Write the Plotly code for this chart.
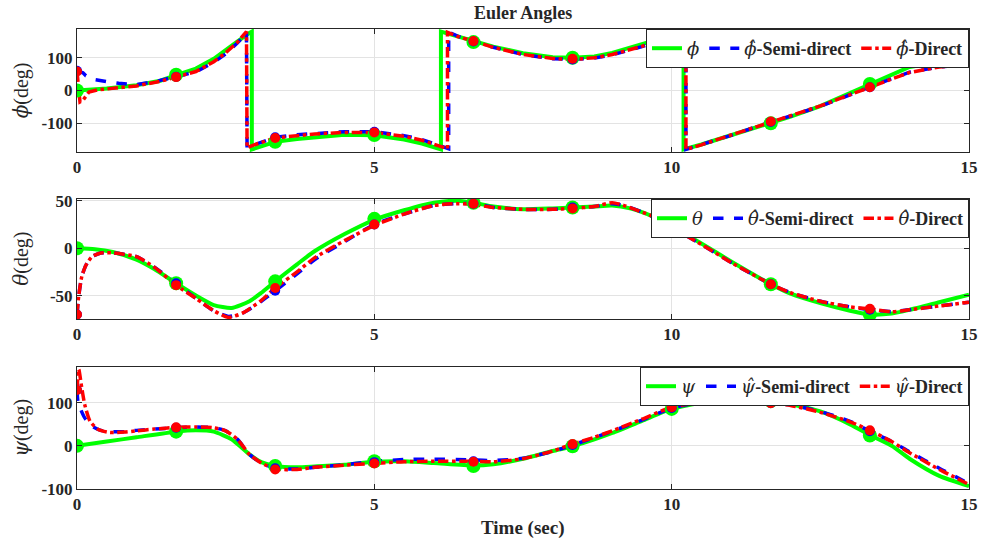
import plotly.graph_objects as go

# ---------------- data ----------------
# Phi
t_phi_true = [0, 0.5, 1.0, 1.4, 1.667, 2.0, 2.3, 2.5, 2.7, 2.9, 2.94, 2.94, 3.1, 3.333, 3.7, 4.0, 4.5, 5.0, 5.5, 5.8, 6.1, 6.12,
              6.12, 6.4, 6.667, 7.0, 7.5, 8.0, 8.333, 8.7, 9.0, 9.5, 9.8, 10.2, 10.2, 10.5, 11.0, 11.667, 12.0, 12.5, 13.0,
              13.333, 13.7, 14.0, 14.5, 15.0]
phi_true = [0, 6, 16, 30, 47, 67, 97, 122, 150, 176, 180, -180, -170, -157, -148, -142, -135, -137, -150, -162, -178, -180,
            180, 165, 149, 134, 114, 102, 100, 104, 115, 140, 158, 180, -180, -165, -137, -100, -80, -48, -8,
            20, 50, 72, 87, 90]

t_phi_semi = [0, 0.05, 0.1, 0.15, 0.3, 0.5, 0.7, 1.0, 1.3, 1.667, 2.0, 2.3, 2.5, 2.7, 2.84, 2.85, 2.86, 3.0, 3.333, 3.7, 4.0, 4.5,
              5.0, 5.5, 5.8, 6.1, 6.25, 6.25, 6.4, 6.667, 7.0, 7.5, 8.0, 8.333, 8.7, 9.0, 9.5, 9.8, 10.24, 10.24, 10.5,
              11.0, 11.667, 12.0, 12.5, 13.0, 13.333, 13.7, 14.0, 14.5, 15.0]
phi_semi = [60, 58, 54, 45, 33, 27, 22, 18, 27, 42, 57, 86, 112, 146, 172, 180, -176, -165, -143, -135, -131, -126,
            -126, -138, -150, -168, -178, 178, 166, 150, 132, 110, 97, 95, 99, 109, 134, 154, 180, -180, -166,
            -137, -96, -78, -48, -12, 10, 36, 56, 72, 80]

t_phi_dir = [0, 0.02, 0.05, 0.1, 0.2, 0.35, 0.5, 1.0, 1.4, 1.667, 2.0, 2.3, 2.5, 2.7, 2.84, 2.85, 2.86, 3.0, 3.333, 3.7, 4.0,
             4.5, 5.0, 5.5, 5.8, 6.1, 6.23, 6.23, 6.4, 6.667, 7.0, 7.5, 8.0, 8.333, 8.7, 9.0, 9.5, 9.8, 10.24, 10.24,
             10.5, 11.0, 11.667, 12.0, 12.5, 13.0, 13.333, 13.7, 14.0, 14.5, 15.0]
phi_dir = [58, 20, -35, -30, -5, 2, 5, 14, 28, 41, 58, 88, 115, 148, 175, 180, -175, -165, -145, -137, -133,
           -128, -128, -140, -152, -170, -178, 178, 165, 151, 132, 110, 98, 95, 100, 110, 135, 155, 180, -180,
           -166, -136, -95, -77, -47, -12, 10, 35, 55, 72, 80]

# Theta
t_theta_true = [0, 0.3, 0.6, 1.0, 1.3, 1.667, 2.0, 2.3, 2.6, 2.9, 3.1, 3.333, 3.7, 4.0, 4.5, 5.0, 5.5, 6.0, 6.4, 6.667, 7.0,
                7.5, 8.0, 8.333, 8.7, 9.0, 9.3, 9.7, 10.0, 10.5, 11.0, 11.667, 12.0, 12.5, 13.0, 13.333, 13.7, 14.0,
                14.5, 15.0]
theta_true = [0, -1, -4, -12, -22, -37, -50, -60, -63, -56, -47, -35, -17, -3, 15, 30, 40, 48, 50, 48, 44,
              41, 42, 43, 44, 45, 42, 33, 23, 5, -14, -38, -48, -58, -66, -70, -69, -65, -57, -49]

t_theta_semi = [0, 0.03, 0.08, 0.15, 0.25, 0.4, 0.6, 1.0, 1.3, 1.667, 2.0, 2.3, 2.55, 2.8, 3.1, 3.333, 3.7, 4.0, 4.5, 5.0,
                5.5, 6.0, 6.4, 6.667, 7.0, 7.5, 8.0, 8.333, 8.7, 9.0, 9.2, 9.7, 10.0, 10.5, 11.0, 11.667, 12.0, 12.5,
                13.0, 13.333, 13.7, 14.0, 14.5, 15.0]
theta_semi = [-70, -50, -30, -18, -9, -5, -5, -9, -20, -37, -53, -66, -72, -68, -56, -45, -27, -12, 7, 25,
              36, 45, 47, 47, 43, 41, 41, 43, 44, 47, 45, 33, 22, 4, -15, -38, -47, -56,
              -62, -65, -67, -65, -61, -57]

t_theta_dir = [0, 0.03, 0.08, 0.15, 0.25, 0.4, 0.6, 1.0, 1.3, 1.667, 2.0, 2.3, 2.55, 2.8, 3.1, 3.333, 3.7, 4.0, 4.5, 5.0,
               5.5, 6.0, 6.4, 6.667, 7.0, 7.5, 8.0, 8.333, 8.7, 9.0, 9.2, 9.7, 10.0, 10.5, 11.0, 11.667, 12.0, 12.5,
               13.0, 13.333, 13.7, 14.0, 14.5, 15.0]
theta_dir = [-70, -50, -30, -18, -9, -5, -5, -9, -20, -39, -53, -66, -73, -68, -55, -42, -25, -10, 8, 24,
             36, 45, 47, 46, 43, 41, 41, 42, 44, 48, 45, 33, 22, 4, -15, -38, -47, -56,
             -62, -64, -67, -65, -61, -57]

# Psi
t_psi_true = [0, 0.5, 1.0, 1.667, 2.0, 2.3, 2.6, 2.9, 3.1, 3.333, 3.7, 4.0, 4.5, 5.0, 5.5, 6.0, 6.667, 7.0, 7.5, 8.0, 8.333,
              8.7, 9.0, 9.5, 10.0, 10.5, 11.0, 11.667, 12.0, 12.5, 13.0, 13.333, 13.7, 14.0, 14.5, 15.0]
psi_true = [0, 10, 20, 33, 36, 33, 15, -20, -38, -47, -50, -48, -44, -37, -36, -40, -46, -43, -30, -12, -1,
            15, 30, 58, 86, 100, 104, 103, 97, 80, 50, 25, 0, -30, -70, -94]

t_psi_semi = [0, 0.02, 0.13, 0.25, 0.4, 0.6, 0.8, 1.0, 1.3, 1.667, 2.0, 2.3, 2.5, 2.7, 2.9, 3.1, 3.333, 3.7, 4.0, 4.5, 5.0,
              5.5, 6.0, 6.667, 7.0, 7.5, 8.0, 8.333, 8.7, 9.0, 9.5, 10.0, 10.5, 11.0, 11.667, 12.0, 12.5, 13.0, 13.333,
              13.7, 14.0, 14.5, 15.0]
psi_semi = [130, 100, 65, 46, 36, 33, 33, 36, 39, 42, 44, 42, 35, 15, -20, -40, -52, -54, -50, -44, -36,
            -32, -31, -33, -34, -29, -13, 2, 19, 34, 60, 88, 101, 105, 100, 95, 80, 57, 34,
            10, -14, -52, -88]

t_psi_dir = [0, 0.03, 0.08, 0.13, 0.22, 0.36, 0.55, 0.8, 1.0, 1.3, 1.667, 2.0, 2.3, 2.5, 2.7, 2.9, 3.1, 3.333, 3.7, 4.0,
             4.5, 5.0, 5.5, 6.0, 6.667, 7.0, 7.5, 8.0, 8.333, 8.7, 9.0, 9.5, 10.0, 10.5, 11.0, 11.667, 12.0, 12.5,
             13.0, 13.333, 13.7, 14.0, 14.5, 15.0]
psi_dir = [130, 178, 135, 96, 57, 38, 31, 32, 35, 39, 43, 44, 42, 35, 15, -20, -40, -54, -55, -50,
           -45, -41, -37, -36, -36, -37, -30, -12, 4, 20, 35, 62, 90, 101, 104, 99, 94, 78,
           56, 36, 10, -16, -55, -90]

# markers
t_mk = [0, 1.667, 3.333, 5.0, 6.667, 8.333, 10.0, 11.667, 13.333]
phi_true_mk = [0, 48, -157, -136, 148, 100, 168, -100, 20]
phi_semi_mk = [60, 42, -143, -126, 150, 95, 165, -96, 10]
phi_dir_mk = [58, 41, -145, -128, 151, 97, 165, -95, 10]
theta_true_mk = [0, -37, -35, 31, 48, 43, 23, -38, -70]
theta_semi_mk = [-70, -37, -45, 25, 47, 43, 22, -38, -65]
theta_dir_mk = [-70, -39, -42, 25, 47, 42, 22, -38, -64]
psi_true_mk = [0, 33, -47, -36, -47, -1, 86, 104, 24]
psi_semi_mk = [130, 42, -52, -38, -36, 2, 88, 100, 34]
psi_dir_mk = [130, 43, -55, -41, -37, 4, 90, 99, 36]

x_ticks = [0, 5, 10, 15]
x_ticktext = ["0", "5", "10", "15"]
phi_ticks = [-100, 0, 100]
phi_ticktext = ["-100", "0", "100"]
theta_ticks = [-50, 0, 50]
theta_ticktext = ["-50", "0", "50"]
psi_ticks = [-100, 0, 100]
psi_ticktext = ["-100", "0", "100"]

# ---------------- figure ----------------
GREEN, BLUE, RED = "#00FF00", "#0000FF", "#FF0000"
FONT = "'Liberation Serif', 'Times New Roman', Times, serif"
SYMFONT = "'DejaVu Serif', serif"
fig = go.Figure()

rows = [
    ("", "legend", (t_phi_true, phi_true), (t_phi_semi, phi_semi), (t_phi_dir, phi_dir),
     phi_true_mk, phi_semi_mk, phi_dir_mk, "ϕ", "linear"),
    ("2", "legend2", (t_theta_true, theta_true), (t_theta_semi, theta_semi), (t_theta_dir, theta_dir),
     theta_true_mk, theta_semi_mk, theta_dir_mk, "θ", "spline"),
    ("3", "legend3", (t_psi_true, psi_true), (t_psi_semi, psi_semi), (t_psi_dir, psi_dir),
     psi_true_mk, psi_semi_mk, psi_dir_mk, "ψ", "spline"),
]


def sym_html(s, hat=False):
    txt = s + ("\u0302" if hat else "")
    return f"<span style=\"font-family:{SYMFONT};font-weight:normal;font-style:italic\">{txt}</span>"


for sfx, lg, tr, se, di, tmk, smk, dmk, sym, shape in rows:
    xa, ya = "x" + sfx, "y" + sfx
    sm = 0.6 if shape == "spline" else None
    fig.add_trace(go.Scatter(x=tr[0], y=tr[1], mode="lines", xaxis=xa, yaxis=ya, legend=lg,
                             line=dict(color=GREEN, width=4, shape=shape, smoothing=sm), name=sym_html(sym)))
    fig.add_trace(go.Scatter(x=se[0], y=se[1], mode="lines", xaxis=xa, yaxis=ya, legend=lg,
                             line=dict(color=BLUE, width=3.5, dash="dash", shape=shape, smoothing=sm),
                             name=sym_html(sym, True) + "-Semi-direct"))
    fig.add_trace(go.Scatter(x=di[0], y=di[1], mode="lines", xaxis=xa, yaxis=ya, legend=lg,
                             line=dict(color=RED, width=3.5, dash="dashdot", shape=shape, smoothing=sm),
                             name=sym_html(sym, True) + "-Direct"))
    fig.add_trace(go.Scatter(x=t_mk, y=tmk, mode="markers", xaxis=xa, yaxis=ya, showlegend=False,
                             marker=dict(color=GREEN, size=14, symbol="circle")))
    fig.add_trace(go.Scatter(x=t_mk, y=smk, mode="markers", xaxis=xa, yaxis=ya, showlegend=False,
                             marker=dict(color=BLUE, size=10, symbol="circle")))
    fig.add_trace(go.Scatter(x=t_mk, y=dmk, mode="markers", xaxis=xa, yaxis=ya, showlegend=False,
                             marker=dict(color=RED, size=10, symbol="circle")))

domains = [(0.7326, 1.0), (0.3696, 0.6304), (0.0, 0.2652)]
yranges = [(-188, 188), (-74.7, 51.9), (-100.5, 183.5)]
yticks = [(phi_ticks, phi_ticktext), (theta_ticks, theta_ticktext), (psi_ticks, psi_ticktext)]
ylabels = ["ϕ", "θ", "ψ"]

axis_common = dict(showline=True, linecolor="#262626", linewidth=1, mirror="ticks",
                   ticks="inside", ticklen=5, tickcolor="#262626", automargin=False,
                   showgrid=True, gridcolor="#e3e3e3", gridwidth=1, zeroline=False,
                   tickfont=dict(family=FONT, size=17, color="#262626", weight="bold"))

layout = {}
for i, sfx in enumerate(["", "2", "3"]):
    layout["xaxis" + sfx] = dict(axis_common, domain=[0, 1], range=[0, 15], tickvals=x_ticks,
                                ticktext=x_ticktext, anchor="y" + sfx)
    layout["yaxis" + sfx] = dict(axis_common, domain=list(domains[i]), range=list(yranges[i]),
                                tickvals=yticks[i][0], ticktext=yticks[i][1], anchor="x" + sfx)
    lgname = "legend" + sfx
    layout[lgname] = dict(x=1, xanchor="right", y=domains[i][1], yanchor="top", orientation="h",
                          bgcolor="white", bordercolor="#262626", borderwidth=1,
                          font=dict(family=FONT, size=18, color="#262626", weight="bold"),
                          itemwidth=30, tracegroupgap=0)
fig.update_layout(**layout)

ann = [dict(text="<b>Euler Angles</b>", x=0.5, y=1.0, xref="paper", yref="paper", yshift=4,
            yanchor="bottom", xanchor="center", showarrow=False,
            font=dict(family=FONT, size=18, color="#262626")),
       dict(text="<b>Time (sec)</b>", x=0.5, y=0, xref="paper", yref="paper", yshift=-26,
            yanchor="top", xanchor="center", showarrow=False, font=dict(family=FONT, size=19, color="#262626"))]
for i in range(3):
    ann.append(dict(text=sym_html(ylabels[i]) + "(deg)", x=-0.063, y=(domains[i][0] + domains[i][1]) / 2,
                    xref="paper", yref="paper", textangle=-90, showarrow=False,
                    xanchor="center", yanchor="middle",
                    font=dict(family=FONT, size=20, color="#262626")))

fig.update_layout(annotations=ann, width=982, height=546, plot_bgcolor="white", paper_bgcolor="white",
                  margin=dict(l=77, r=13, t=29, b=57, autoexpand=False), showlegend=True)

fig.write_html("out.html", config={"displayModeBar": False},
               post_script="document.body.style.margin='0';document.body.style.padding='0';")
